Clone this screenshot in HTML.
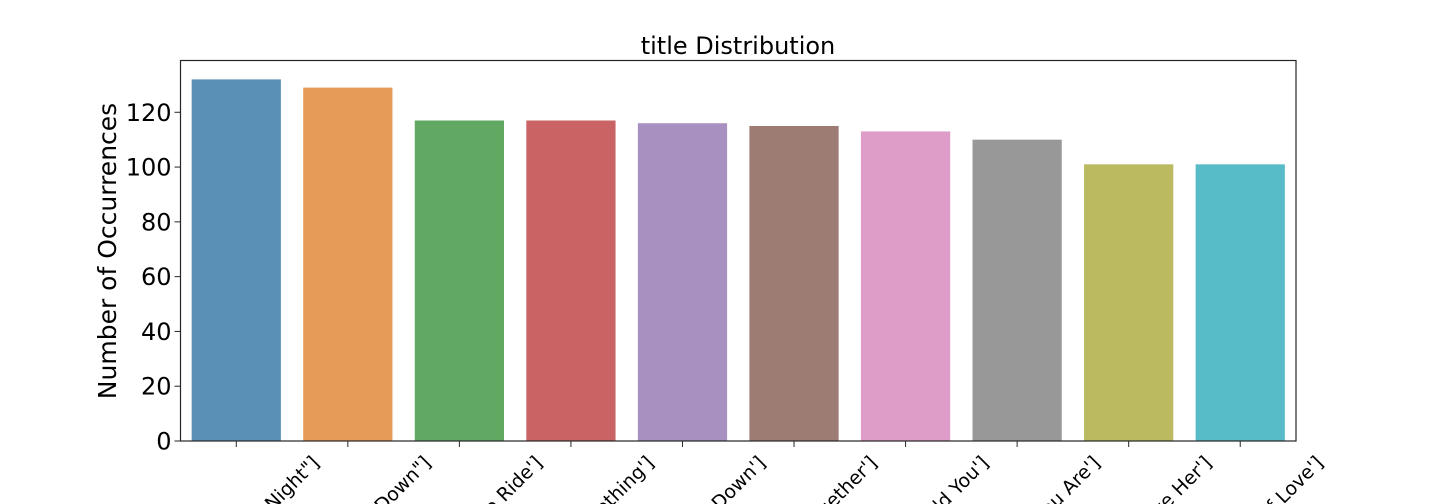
<!DOCTYPE html>
<html><head><meta charset="utf-8"><style>
html,body{margin:0;padding:0;background:#fff;overflow:hidden;width:1440px;height:504px;}
svg{display:block;font-family:"DejaVu Sans","Liberation Sans",sans-serif;overflow:hidden;}
</style></head><body>
<svg id="chart" width="1440" height="504" viewBox="0 0 1440 504">
<defs><clipPath id="frameclip"><rect x="0" y="0" width="1440" height="504"/></clipPath></defs>
<text x="738" y="54" font-size="24" text-anchor="middle" fill="#000">title Distribution</text>
<text transform="translate(116,251) rotate(-90)" font-size="25" text-anchor="middle" fill="#000">Number of Occurrences</text>
<g id="bars"></g><g id="yticks"></g><g id="xticks" clip-path="url(#frameclip)"></g>
<rect x="180.5" y="60.5" width="1115.5" height="380.5" fill="none" stroke="#262626" stroke-width="1.2"/>
</svg>
<script>
const categories = ["['A Hard Day\u2019s Night\"]","[\"Let Me Down\"]","['Ticket to Ride']","['Something']","['Don\u2019t Let Me Down']","['Come Together']","['I Want to Hold You']","['Here You Are']","['I Love Her']","['Power of Love']"];
const values = [132,129,117,117,116,115,113,110,101,101];
const colors = ["#5a90b5","#e79b58","#61a962","#ca6464","#a890c0","#9d7c74","#de9dc8","#989898","#bbba60","#58bcc8"];
const yTicks = [0,20,40,60,80,100,120];
const L=180.5,R=1296,T=60.5,B=441,YMAX=138.9;
const NS="http://www.w3.org/2000/svg";
const y=v=>B-(v/YMAX)*(B-T);
const band=(R-L)/categories.length;
const xc=i=>L+band*(i+0.5);
const bw=band*0.8;
const bars=document.getElementById('bars'),yt=document.getElementById('yticks'),xt=document.getElementById('xticks');
values.forEach((v,i)=>{
  const r=document.createElementNS(NS,'rect');
  r.setAttribute('x',xc(i)-bw/2);r.setAttribute('y',y(v));
  r.setAttribute('width',bw);r.setAttribute('height',B-y(v));
  r.setAttribute('fill',colors[i]);
  
  
  bars.appendChild(r);
  const t=document.createElementNS(NS,'line');
  t.setAttribute('x1',xc(i));t.setAttribute('x2',xc(i));t.setAttribute('y1',B);t.setAttribute('y2',B+6);
  t.setAttribute('stroke','#262626');
  
  
  xt.appendChild(t);
  const tx=document.createElementNS(NS,'text');
  tx.setAttribute('transform','translate('+(xc(i)+84)+',464) rotate(-45)');
  tx.setAttribute('text-anchor','end');tx.setAttribute('font-size','19');
  tx.textContent=categories[i];
  
  
  xt.appendChild(tx);
});
yTicks.forEach(v=>{
  const t=document.createElementNS(NS,'line');
  t.setAttribute('x1',L-6);t.setAttribute('x2',L);t.setAttribute('y1',y(v));t.setAttribute('y2',y(v));
  t.setAttribute('stroke','#262626');
  
  
  yt.appendChild(t);
  const tx=document.createElementNS(NS,'text');
  tx.setAttribute('x',L-9);tx.setAttribute('y',y(v)+8.5);
  tx.setAttribute('text-anchor','end');tx.setAttribute('font-size','24');
  tx.textContent=v;
  
  
  yt.appendChild(tx);
});
</script>
</body></html>
